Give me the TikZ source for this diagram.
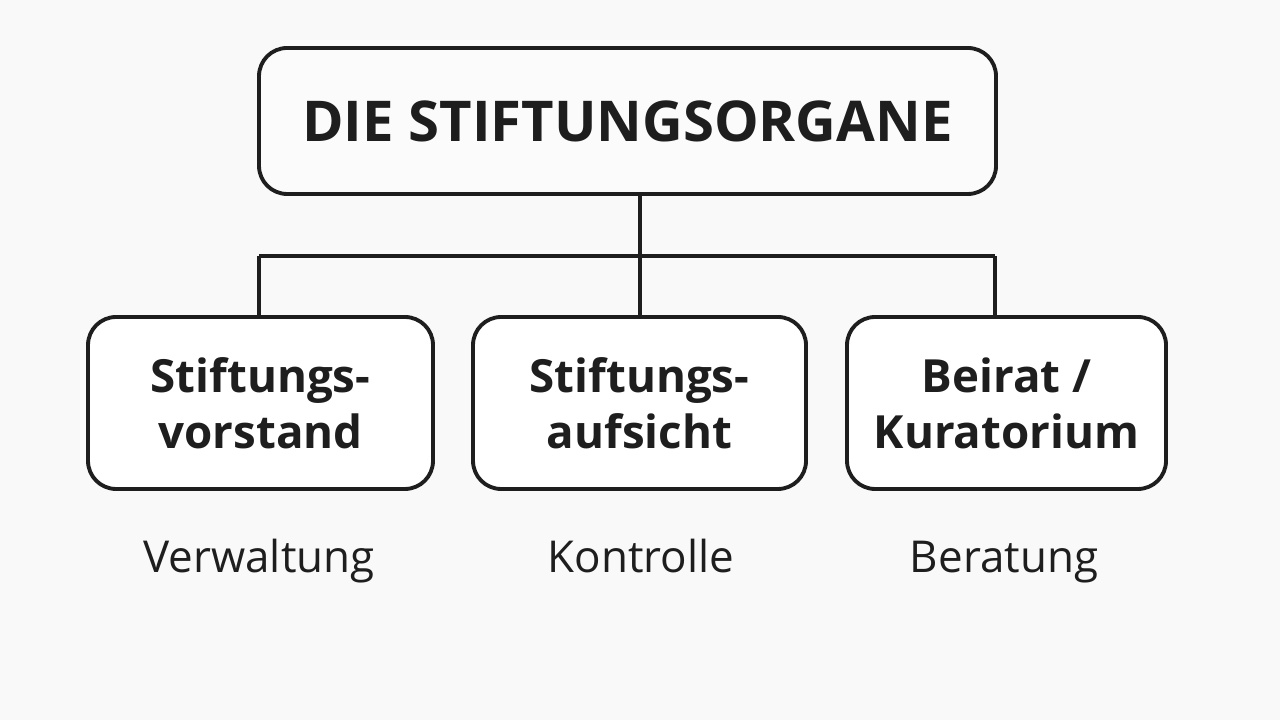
\documentclass[tikz,border=0pt]{standalone}
\usepackage{fontspec}
\setmainfont{Open Sans}
\usetikzlibrary{positioning}
\definecolor{bg}{HTML}{F9F9F9}
\definecolor{ink}{HTML}{1E1E1E}
\tikzset{
  organ/.style={draw=ink,line width=1.1pt,rounded corners=8pt,fill=white,
    align=center,font=\fontsize{13}{16}\selectfont\bfseries,text=ink,
    minimum height=1.72cm,inner sep=0pt},
  task/.style={font=\fontsize{12.5}{15}\selectfont,text=ink,anchor=base},
  link/.style={draw=ink,line width=1.1pt}
}
\begin{document}
\begin{tikzpicture}
\fill[bg] (0,0) rectangle (12.8,7.2);
\useasboundingbox (0,0) rectangle (12.8,7.2);

\node[organ,minimum width=7.37cm,minimum height=1.46cm,fill=bg!60!white,
      font=\fontsize{16}{19}\selectfont\bfseries] (top) at (6.275,5.99) {DIE STIFTUNGSORGANE};

\node[organ,minimum width=3.45cm] (vorstand) at (2.605,3.17) {Stiftungs-\\vorstand};
\node[organ,minimum width=3.33cm] (aufsicht) at (6.395,3.17) {Stiftungs-\\aufsicht};
\node[organ,minimum width=3.19cm] (beirat) at (10.065,3.17) {Beirat /\\Kuratorium};

\node[task] (verw) at (2.59,1.47) {Verwaltung};
\node[task] (kontr) at (6.41,1.47) {Kontrolle};
\node[task] (berat) at (10.04,1.47) {Beratung};

\coordinate (mid) at (6.40,4.64);
\coordinate (left) at (2.59,4.64);
\coordinate (right) at (9.95,4.64);

\draw[link] (top.south -| mid) -- (mid);
\draw[link] (left) -- (right);
\draw[link] (left) -- (left |- vorstand.north);
\draw[link] (mid) -- (aufsicht.north -| mid);
\draw[link] (right) -- (right |- beirat.north);
\end{tikzpicture}
\end{document}
